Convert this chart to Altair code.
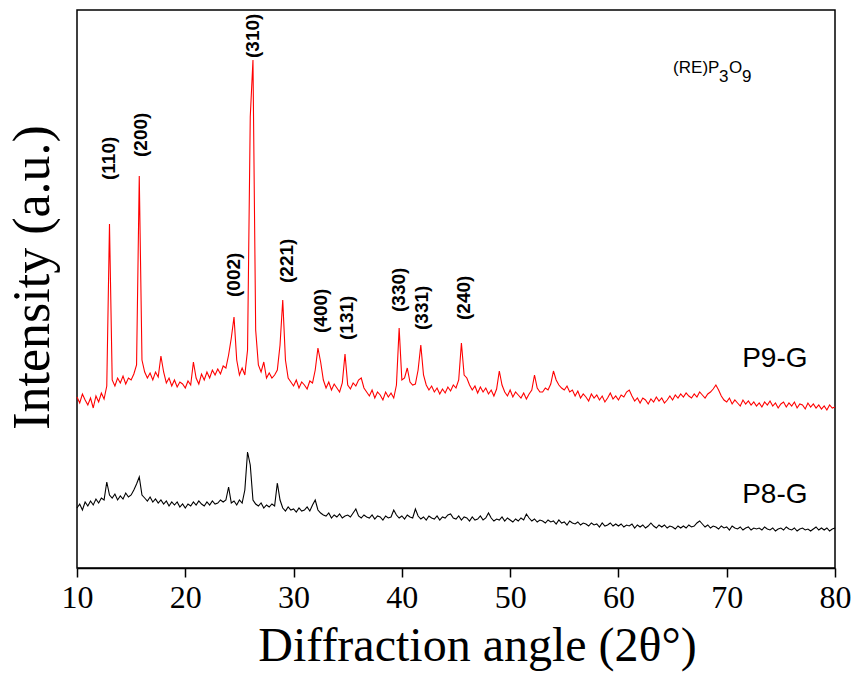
import altair as alt
import pandas as pd
import numpy as np

# 2-theta sampling grid (0.25 deg step)
angles = [round(10 + 0.25 * i, 2) for i in range(281)]

# P9-G (red) intensities, 4 samples per degree (x.00, x.25, x.50, x.75)
p9_rows = [
    [171, 165, 174, 168], [163, 170, 160, 172], [166, 175, 169, 182], [344, 188, 182, 190],
    [185, 192, 184, 190], [188, 194, 203, 392], [208, 196, 190, 195], [188, 196, 191, 212],
    [196, 185, 190, 182], [188, 181, 186, 184], [180, 187, 183, 206], [190, 184, 194, 188],
    [196, 190, 198, 193], [199, 194, 202, 200], [213, 230, 251, 208], [193, 200, 193, 218],
    [451, 508, 238, 203], [196, 206, 190, 195], [190, 193, 198, 223], [268, 208, 190, 186],
    [182, 188, 180, 186], [183, 179, 187, 185], [198, 220, 206, 188], [180, 186, 178, 184],
    [180, 176, 185, 214], [183, 179, 185, 182], [188, 190, 180, 176], [172, 178, 170, 176],
    [173, 168, 176, 171], [175, 170, 183, 240], [188, 190, 200, 186], [183, 184, 198, 223],
    [193, 183, 178, 182], [176, 180, 174, 179], [175, 181, 177, 183], [180, 188, 225, 193],
    [190, 183, 178, 182], [175, 181, 176, 180], [174, 178, 172, 179], [197, 183, 176, 172],
    [178, 171, 176, 173], [170, 175, 169, 174], [178, 193, 180, 176], [176, 180, 178, 184],
    [197, 188, 183, 180], [178, 182, 176, 178], [172, 177, 170, 174], [171, 167, 174, 170],
    [173, 168, 172, 166], [170, 175, 169, 172], [168, 173, 171, 176], [178, 172, 167, 170],
    [165, 170, 168, 164], [169, 166, 171, 167], [170, 165, 168, 172], [168, 173, 170, 174],
    [171, 175, 172, 170], [174, 171, 176, 173], [170, 174, 176, 179], [183, 178, 172, 168],
    [166, 170, 164, 168], [165, 162, 168, 164], [167, 163, 166, 162], [165, 161, 166, 163],
    [167, 162, 165, 160], [164, 166, 161, 165], [162, 166, 160, 164], [163, 159, 165, 161],
    [164, 160, 163, 159], [162, 158, 163, 160], [161],
]

# P8-G (black) intensities
p8_rows = [
    [60, 64, 58, 66], [62, 67, 63, 69], [65, 70, 68, 86], [73, 70, 74, 68],
    [72, 69, 75, 71], [73, 78, 84, 91], [73, 70, 67, 71], [66, 69, 65, 68],
    [64, 67, 62, 66], [63, 66, 61, 64], [60, 64, 62, 66], [63, 67, 64, 62],
    [66, 63, 67, 64], [65, 68, 66, 68], [81, 65, 67, 63], [68, 65, 78, 116],
    [103, 68, 64, 62], [65, 60, 63, 61], [64, 62, 85, 68], [60, 57, 61, 58],
    [59, 56, 60, 57], [58, 61, 57, 63], [68, 58, 55, 53], [52, 55, 50, 53],
    [51, 54, 50, 52], [53, 51, 55, 59], [52, 50, 53, 51], [50, 53, 49, 52],
    [51, 48, 52, 50], [51, 58, 53, 50], [52, 49, 53, 51], [50, 59, 52, 49],
    [51, 48, 52, 50], [49, 52, 48, 51], [50, 53, 54, 50], [49, 52, 48, 51],
    [50, 47, 51, 48], [49, 52, 48, 50], [55, 50, 47, 49], [48, 51, 47, 50],
    [48, 46, 49, 47], [50, 48, 54, 50], [47, 49, 46, 48], [47, 45, 48, 46],
    [47, 44, 48, 45], [46, 43, 47, 45], [44, 46, 43, 45], [44, 42, 45, 43],
    [44, 41, 45, 42], [43, 45, 42, 44], [42, 44, 41, 43], [42, 44, 40, 43],
    [41, 43, 40, 42], [45, 42, 40, 43], [41, 43, 40, 42], [41, 39, 42, 40],
    [42, 40, 43, 41], [42, 45, 47, 44], [41, 43, 40, 42], [41, 39, 42, 40],
    [41, 38, 42, 40], [39, 41, 38, 40], [41, 38, 40, 39], [40, 38, 41, 39],
    [38, 40, 37, 39], [40, 38, 41, 39], [38, 40, 37, 39], [40, 38, 39, 37],
    [39, 41, 38, 40], [38, 40, 37, 39], [40],
]

p9_vals = [v for row in p9_rows for v in row]
p8_vals = [v for row in p8_rows for v in row]

# Miller index labels
hkl_text = ["(110)", "(200)", "(310)", "(002)", "(221)", "(400)", "(131)", "(330)", "(331)", "(240)"]
hkl_x = [13.0, 15.89, 26.23, 24.47, 29.36, 32.5, 34.9, 39.73, 41.86, 45.74]
hkl_y = [388, 411, 510, 271, 285, 235, 228, 256, 238, 248]

# Sample names
sample_names = ["P9-G", "P8-G"]
sample_x = [71.43, 71.43]
sample_y = [201, 65]

lines = pd.concat([
    pd.DataFrame({"angle": angles, "intensity": p9_vals, "sample": "P9-G"}),
    pd.DataFrame({"angle": angles, "intensity": p8_vals, "sample": "P8-G"}),
])

xs = alt.Scale(domain=[10, 80], nice=False, zero=False)
ys = alt.Scale(domain=[0, 558], nice=False, zero=False)

base_x = alt.X("angle:Q", scale=xs, axis=alt.Axis(
    values=[10, 20, 30, 40, 50, 60, 70, 80], title="Diffraction angle (2θ°)",
    titleFont="Liberation Serif", titleFontSize=48, titleFontWeight="normal", titleColor="black",
    titleX=400, titleY=92, titleAnchor="start", titleAlign="center", titleBaseline="alphabetic",
    labelFont="Liberation Serif", labelFontSize=32, labelColor="black", labelPadding=5,
    tickSize=9, tickWidth=1.5, tickColor="black", domainColor="black", domainWidth=1.5,
    grid=False, labelFlush=False))
base_y = alt.Y("intensity:Q", scale=ys, axis=alt.Axis(
    title="Intensity (a.u.)", labels=False, ticks=False, domain=False, grid=False,
    titleFont="Liberation Serif", titleFontSize=52, titleFontWeight="normal", titleColor="black",
    titleAngle=270, titleAlign="center", titleBaseline="alphabetic", titleX=-29, titleY=267,
    titleAnchor="start"))

line = alt.Chart(lines).mark_line(strokeWidth=1.1, interpolate="linear").encode(
    x=base_x, y=base_y,
    color=alt.Color("sample:N", scale=alt.Scale(domain=["P9-G", "P8-G"], range=["#ff0000", "#000000"]), legend=None),
    detail="sample:N",
)

hkl_df = pd.DataFrame({"angle": hkl_x, "intensity": hkl_y, "label": hkl_text})
hkl = alt.Chart(hkl_df).mark_text(angle=270, align="left", baseline="middle",
                                  font="Liberation Sans", fontSize=19, fontWeight="bold",
                                  color="black").encode(
    x=alt.X("angle:Q", scale=xs), y=alt.Y("intensity:Q", scale=ys), text="label:N")

names_df = pd.DataFrame({"angle": sample_x, "intensity": sample_y, "label": sample_names})
names = alt.Chart(names_df).mark_text(align="left", baseline="alphabetic",
                                      font="Liberation Sans", fontSize=28, color="black").encode(
    x=alt.X("angle:Q", scale=xs), y=alt.Y("intensity:Q", scale=ys), text="label:N")

# formula annotation (RE)P3O9 with subscripts
formula_parts = ["(RE)P", "3", "O", "9"]
formula_dx = [0, 46, 56, 69]
formula_dy = [0, 9, 0, 9]
formula_layers = []
for t, ddx, ddy in zip(formula_parts, formula_dx, formula_dy):
    fdf = pd.DataFrame({"angle": [65.05], "intensity": [495], "label": [t]})
    formula_layers.append(
        alt.Chart(fdf).mark_text(align="left", baseline="alphabetic", font="Liberation Sans",
                                 fontSize=17, color="black", dx=ddx, dy=ddy).encode(
            x=alt.X("angle:Q", scale=xs), y=alt.Y("intensity:Q", scale=ys), text="label:N"))

chart = alt.layer(line, hkl, names, *formula_layers).properties(
    width=758, height=558,
    autosize=alt.AutoSizeParams(type="none"),
    padding={"left": 77, "top": 10, "right": 22, "bottom": 105},
    background="white",
).configure_view(stroke="black", strokeWidth=1.5)

chart.save("out.html", embed_options={"renderer": "svg", "actions": False})
